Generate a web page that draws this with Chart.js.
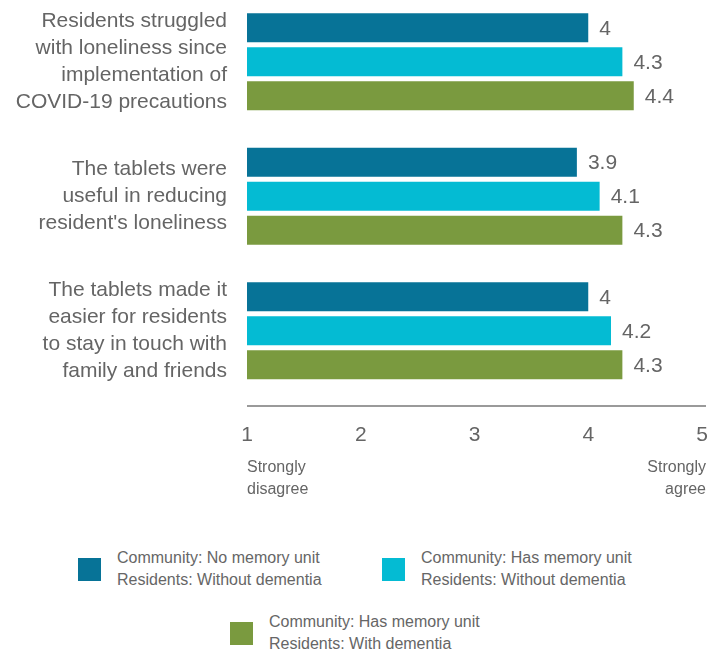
<!DOCTYPE html>
<html>
<head>
<meta charset="utf-8">
<script src="https://cdn.jsdelivr.net/npm/chart.js@4/dist/chart.umd.min.js"></script>
<style>
  html, body { margin: 0; padding: 0; background: #fff; }
  body { width: 720px; height: 652px; overflow: hidden; position: relative; font-family: "Liberation Sans", Arial, sans-serif; }
  #wrap { position: absolute; left: 0; top: -10px; width: 720px; height: 520px; }
  .leg { position: absolute; display: flex; align-items: center; color: #666; font-size: 16px; line-height: 22px; }
  .leg .box { width: 23px; height: 23px; margin-right: 16px; flex: none; }
</style>
</head>
<body>
<div id="wrap"><canvas id="chart"></canvas></div>
<div id="legend"></div>
<script>
// questions (y categories)
const questions = [
  ['Residents struggled', 'with loneliness since', 'implementation of', 'COVID-19 precautions'],
  ['The tablets were', 'useful in reducing', "resident's loneliness"],
  ['The tablets made it', 'easier for residents', 'to stay in touch with', 'family and friends']
]
// series
const seriesNames = [
  ['Community: No memory unit', 'Residents: Without dementia'],
  ['Community: Has memory unit', 'Residents: Without dementia'],
  ['Community: Has memory unit', 'Residents: With dementia']
]
const noUnitNoDementia = [4, 3.9, 4]
const unitNoDementia = [4.3, 4.1, 4.2]
const unitDementia = [4.4, 4.3, 4.3]
const seriesColors = ['#077397', '#04BBD3', '#7A9A3F']
// scale ends
const scaleEnds = { 1: ['Strongly', 'disagree'], 5: ['Strongly', 'agree'] }

const textGray = '#656565'
const fontName = '"Liberation Sans", Arial, sans-serif'

// value labels at bar ends + axis line + end labels
const extrasPlugin = {
    id: 'extras',
    afterDatasetsDraw(chart) {
        const ctx = chart.ctx
        ctx.save()
        ctx.font = '21px ' + fontName
        ctx.fillStyle = textGray
        ctx.textBaseline = 'middle'
        ctx.textAlign = 'left'
        chart.data.datasets.forEach((ds, i) => {
            chart.getDatasetMeta(i).data.forEach((bar, j) => {
                ctx.fillText(String(ds.data[j]), bar.x + 11, bar.y + 1)
            })
        })
        // axis line a little below the plot area
        const area = chart.chartArea
        const xs = chart.scales.x
        const lineY = area.bottom + 8
        ctx.strokeStyle = '#9a9a9a'
        ctx.lineWidth = 2
        ctx.beginPath()
        ctx.moveTo(xs.getPixelForValue(1), lineY)
        ctx.lineTo(xs.getPixelForValue(5) + 4, lineY)
        ctx.stroke()
        // scale end descriptions
        ctx.font = '16px ' + fontName
        ctx.textBaseline = 'middle'
        Object.keys(scaleEnds).forEach(k => {
            const v = Number(k)
            const x = v === 1 ? xs.getPixelForValue(v) : xs.getPixelForValue(v) + 4
            ctx.textAlign = v === 1 ? 'left' : 'right'
            scaleEnds[k].forEach((line, n) => {
                ctx.fillText(line, x, lineY + 62 + n * 22)
            })
        })
        ctx.restore()
    }
}

const chart = new Chart(document.getElementById('chart'), {
    type: 'bar',
    data: {
        labels: questions,
        datasets: [
            { label: seriesNames[0], data: noUnitNoDementia, backgroundColor: seriesColors[0] },
            { label: seriesNames[1], data: unitNoDementia, backgroundColor: seriesColors[1] },
            { label: seriesNames[2], data: unitDementia, backgroundColor: seriesColors[2] }
        ]
    },
    options: {
        indexAxis: 'y',
        responsive: true,
        maintainAspectRatio: false,
        animation: false,
        categoryPercentage: 0.758,
        barPercentage: 0.853,
        layout: { padding: { top: 4.5, right: 18, bottom: 0, left: 0 } },
        plugins: {
            legend: { display: false },
            tooltip: { enabled: false }
        },
        scales: {
            x: {
                min: 1,
                max: 5,
                grid: { display: false, drawTicks: false },
                border: { display: false },
                ticks: {
                    stepSize: 1,
                    padding: 25,
                    color: textGray,
                    font: { family: fontName, size: 21 }
                },
                afterFit(scale) {
                    scale.height = 112
                    scale.paddingLeft = 0
                    scale.paddingRight = 0
                }
            },
            y: {
                grid: { display: false, drawTicks: false },
                border: { display: false },
                ticks: {
                    padding: 20,
                    color: textGray,
                    font: { family: fontName, size: 21, lineHeight: '27px' }
                },
                afterFit(scale) {
                    scale.width = 247
                    scale.paddingTop = 0
                    scale.paddingBottom = 0
                }
            }
        }
    },
    plugins: [extrasPlugin]
})

// html legend from the datasets
const legendPos = [[78, 547], [382, 547], [230, 611]]
const legendEl = document.getElementById('legend')
chart.data.datasets.forEach((ds, i) => {
    const item = document.createElement('div')
    item.className = 'leg'
    item.style.left = legendPos[i][0] + 'px'
    item.style.top = legendPos[i][1] + 'px'
    item.innerHTML = '<div class="box" style="background:' + ds.backgroundColor + '"></div><div>' + ds.label.join('<br>') + '</div>'
    legendEl.appendChild(item)
})
</script>
</body>
</html>
